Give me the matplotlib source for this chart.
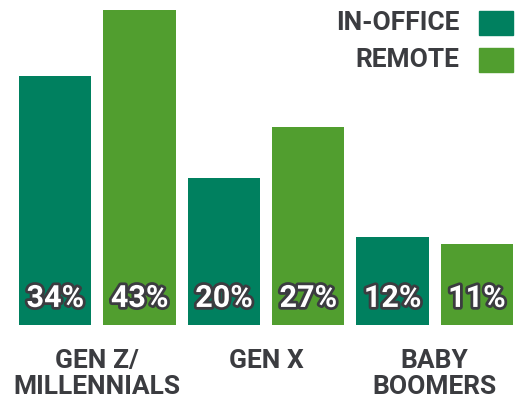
import numpy as np
import matplotlib.pyplot as plt
import matplotlib.patheffects as pe
from matplotlib.patches import Rectangle

groups = ["GEN Z/\nMILLENNIALS", "GEN X", "BABY\nBOOMERS"]
in_office = [34, 20, 12]
remote = [43, 27, 11]
series_names = ["IN-OFFICE", "REMOTE"]

dark_green = "#00805f"
light_green = "#519e2f"
text_col = "#3b3c40"

plt.rcParams["font.family"] = ["Roboto", "DejaVu Sans"]

fig = plt.figure(figsize=(5.2, 4.04), dpi=100)
ax = fig.add_axes([19 / 520, 1 - 325 / 404, 494 / 520, 315 / 404])

width = 0.86
x = np.arange(len(groups)) * 2
bars1 = ax.bar(x, in_office, width, color=dark_green)
bars2 = ax.bar(x + 1, remote, width, color=light_green)

ax.set_xlim(-width / 2, x[-1] + 1 + width / 2)
ax.set_ylim(0, max(remote + in_office))

# value labels at the bottom of each bar, white with dark outline
for bars, vals in [(bars1, in_office), (bars2, remote)]:
    for b, v in zip(bars, vals):
        ax.annotate(f"{v}%", xy=(b.get_x() + b.get_width() / 2, 0),
                    xytext=(0, 13), textcoords="offset points",
                    ha="center", va="baseline", fontsize=22, fontweight="bold",
                    color="white",
                    path_effects=[pe.withStroke(linewidth=4, foreground=text_col)])

ax.set_xticks(x + 0.5, groups)
ax.tick_params(axis="x", length=0, pad=17, labelsize=19, labelcolor=text_col)
for lab in ax.get_xticklabels():
    lab.set_fontweight("bold")
    lab.set_linespacing(1.1)
ax.set_yticks([])
for s in ax.spines.values():
    s.set_visible(False)

# legend: right-aligned text next to colored squares
for i, (name, col) in enumerate(zip(series_names, [dark_green, light_green])):
    top = 1 - (11 + i * 37) / 404
    fig.patches.append(Rectangle((479 / 520, top - 24 / 404), 34 / 520, 24 / 404,
                                 transform=fig.transFigure, color=col))
    fig.text(459 / 520, top - 12 / 404, name, ha="right", va="center",
             fontsize=19, fontweight="bold", color=text_col)

fig.savefig("out.png", dpi=100)
